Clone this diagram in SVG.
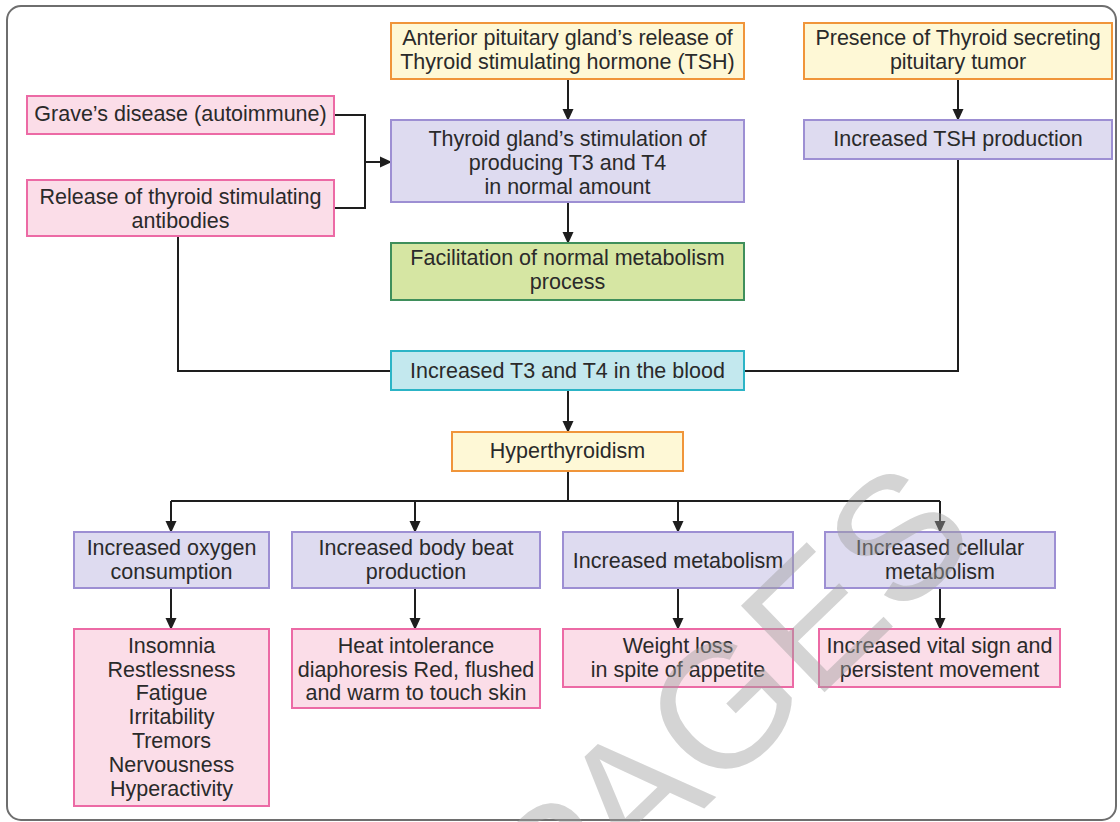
<svg xmlns="http://www.w3.org/2000/svg" width="1120" height="822" viewBox="0 0 1120 822">
<defs>
<marker id="ah" markerWidth="12" markerHeight="12" refX="11" refY="6" orient="auto" markerUnits="userSpaceOnUse">
<path d="M0,0.5 L12,6 L0,11.5 Z" fill="#1e1e1e"/>
</marker>
<style>
text{font-family:"Liberation Sans",Arial,sans-serif;font-size:21.5px;fill:#2a2a2a;text-anchor:middle}
.pink{fill:#fbdde8;stroke:#ec6aa5;stroke-width:2}
.purple{fill:#dedbf0;stroke:#9d8fd3;stroke-width:2}
.orange{fill:#fef8d6;stroke:#f0953a;stroke-width:2}
.green{fill:#d6e6a3;stroke:#3f8f5b;stroke-width:2}
.cyan{fill:#c3e8ee;stroke:#2cb4c6;stroke-width:2}
.ln{fill:none;stroke:#1e1e1e;stroke-width:2}
.arr{fill:none;stroke:#1e1e1e;stroke-width:2;marker-end:url(#ah)}
.wm{font-family:"Liberation Sans",Arial,sans-serif;font-size:175px;fill:#a0a0a0;fill-opacity:0.45;text-anchor:middle}
</style>
</defs>
<rect x="0" y="0" width="1120" height="822" fill="#ffffff"/>
<rect x="7" y="6" width="1109" height="814" rx="14" ry="14" fill="#ffffff" stroke="#6e6e6e" stroke-width="2"/>

<g id="connectors">
<path class="arr" d="M568,79 V120"/>
<path class="arr" d="M958,79 V120"/>
<path class="arr" d="M568,202 V243"/>
<path class="ln" d="M334,115 H365 V208 H334"/>
<path class="arr" d="M365,162 H391"/>
<path class="ln" d="M178,236 V371 H391"/>
<path class="ln" d="M958,159 V371 H744"/>
<path class="arr" d="M568,390 V432"/>
<path class="ln" d="M568,471 V501"/>
<path class="ln" d="M171,501 H940"/>
<path class="arr" d="M171,501 V532"/>
<path class="arr" d="M415,501 V532"/>
<path class="arr" d="M678,501 V532"/>
<path class="arr" d="M940,501 V532"/>
<path class="arr" d="M171,588 V629"/>
<path class="arr" d="M415,588 V629"/>
<path class="arr" d="M678,588 V629"/>
<path class="arr" d="M940,588 V629"/>
</g>

<g id="anterior">
<rect class="orange" x="391" y="23" width="353" height="56"/>
<text x="567.5" y="44.5">Anterior pituitary gland’s release of</text>
<text x="567.5" y="68.5">Thyroid stimulating hormone (TSH)</text>
</g>
<g id="presence">
<rect class="orange" x="804" y="23" width="308" height="56"/>
<text x="958" y="44.5">Presence of Thyroid secreting</text>
<text x="958" y="68.5">pituitary tumor</text>
</g>
<g id="graves">
<rect class="pink" x="27" y="96" width="307" height="38"/>
<text x="180.5" y="120.5">Grave’s disease (autoimmune)</text>
</g>
<g id="release">
<rect class="pink" x="27" y="180" width="307" height="56"/>
<text x="180.5" y="203.5">Release of thyroid stimulating</text>
<text x="180.5" y="227.5">antibodies</text>
</g>
<g id="thyroid">
<rect class="purple" x="391" y="120" width="353" height="82"/>
<text x="567.5" y="145.5">Thyroid gland’s stimulation of</text>
<text x="567.5" y="169.5">producing T3 and T4</text>
<text x="567.5" y="193.5">in normal amount</text>
</g>
<g id="tsh">
<rect class="purple" x="804" y="120" width="308" height="39"/>
<text x="958" y="145.5">Increased TSH production</text>
</g>
<g id="facilitation">
<rect class="green" x="391" y="243" width="353" height="57"/>
<text x="567.5" y="264.5">Facilitation of normal metabolism</text>
<text x="567.5" y="288.5">process</text>
</g>
<g id="t3t4">
<rect class="cyan" x="391" y="351" width="353" height="39"/>
<text x="567.5" y="377.5">Increased T3 and T4 in the blood</text>
</g>
<g id="hyper">
<rect class="orange" x="452" y="432" width="231" height="39"/>
<text x="567.5" y="457.5">Hyperthyroidism</text>
</g>
<g id="oxygen">
<rect class="purple" x="74" y="532" width="195" height="56"/>
<text x="171.5" y="554.5">Increased oxygen</text>
<text x="171.5" y="578.5">consumption</text>
</g>
<g id="bodybeat">
<rect class="purple" x="292" y="532" width="248" height="56"/>
<text x="416" y="554.5">Increased body beat</text>
<text x="416" y="578.5">production</text>
</g>
<g id="metabolism">
<rect class="purple" x="563" y="532" width="230" height="56"/>
<text x="678" y="567.5">Increased metabolism</text>
</g>
<g id="cellular">
<rect class="purple" x="825" y="532" width="230" height="56"/>
<text x="940" y="554.5">Increased cellular</text>
<text x="940" y="578.5">metabolism</text>
</g>
<g id="symptoms">
<rect class="pink" x="74" y="629" width="195" height="177"/>
<text x="171.5" y="652.5">Insomnia</text>
<text x="171.5" y="676.5">Restlessness</text>
<text x="171.5" y="699.5">Fatigue</text>
<text x="171.5" y="723.5">Irritability</text>
<text x="171.5" y="747.5">Tremors</text>
<text x="171.5" y="771.5">Nervousness</text>
<text x="171.5" y="795.5">Hyperactivity</text>
</g>
<g id="heat">
<rect class="pink" x="292" y="629" width="248" height="79"/>
<text x="416" y="652.5">Heat intolerance</text>
<text x="416" y="676.5">diaphoresis Red, flushed</text>
<text x="416" y="699.5">and warm to touch skin</text>
</g>
<g id="weight">
<rect class="pink" x="563" y="629" width="230" height="58"/>
<text x="678" y="652.5">Weight loss</text>
<text x="678" y="676.5">in spite of appetite</text>
</g>
<g id="vital">
<rect class="pink" x="819" y="629" width="241" height="58"/>
<text x="939.5" y="652.5">Increased vital sign and</text>
<text x="939.5" y="676.5">persistent movement</text>
</g>

<text class="wm" x="0" y="0" transform="translate(770,745) rotate(-44)">PAGES</text>
</svg>
